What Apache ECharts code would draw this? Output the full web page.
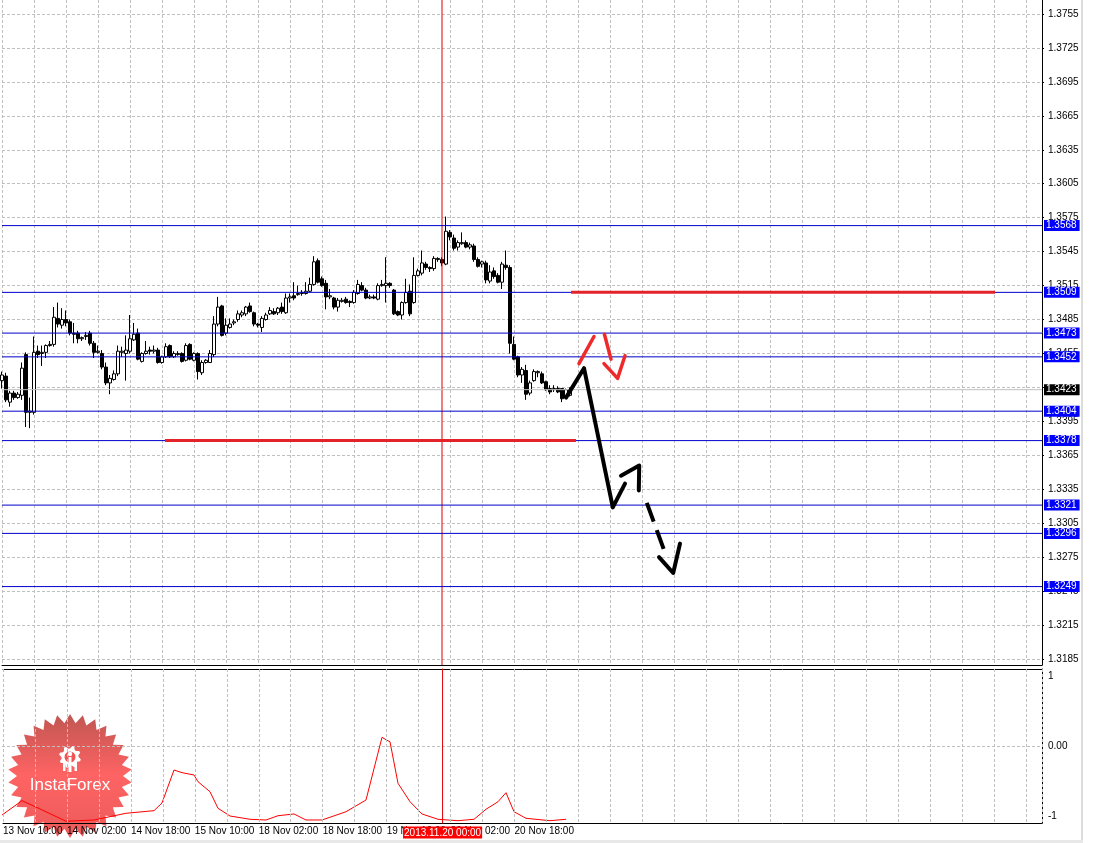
<!DOCTYPE html>
<html><head><meta charset="utf-8">
<script src="https://cdn.jsdelivr.net/npm/echarts@6/dist/echarts.min.js"></script>
<style>html,body{margin:0;padding:0;background:#fff}#c{width:1093px;height:843px}</style>
</head><body><div id="c"></div>
<script>
// time-axis tick labels, one every 16 hourly bars
const tickLabels = ['13 Nov 10:00','14 Nov 02:00','14 Nov 18:00','15 Nov 10:00','18 Nov 02:00','18 Nov 18:00','19 Nov 10:00','20 Nov 02:00','20 Nov 18:00'];
// hourly candles [open, close, low, high]
const ohlc = [
[1.3431,1.3436,1.3424,1.3439],[1.3435,1.3414,1.3412,1.3438],[1.3412,1.3420,1.3408,1.3422],[1.3420,1.3416,1.3414,1.3422],
[1.3416,1.3419,1.3415,1.3421],[1.3418,1.3442,1.3414,1.3447],[1.3454,1.3403,1.3390,1.3456],[1.3403,1.3404,1.3389,1.3416],
[1.3403,1.3456,1.3401,1.3470],[1.3457,1.3454,1.3451,1.3462],[1.3455,1.3456,1.3444,1.3462],[1.3456,1.3462,1.3451,1.3463],
[1.3462,1.3463,1.3461,1.3466],[1.3463,1.3487,1.3461,1.3496],[1.3486,1.3481,1.3478,1.3500],[1.3480,1.3485,1.3477,1.3495],
[1.3485,1.3482,1.3479,1.3493],[1.3483,1.3473,1.3471,1.3485],[1.3473,1.3472,1.3464,1.3482],[1.3473,1.3468,1.3464,1.3475],
[1.3468,1.3469,1.3466,1.3470],[1.3470,1.3471,1.3467,1.3474],[1.3473,1.3464,1.3462,1.3475],[1.3464,1.3456,1.3451,1.3466],
[1.3456,1.3457,1.3455,1.3462],[1.3455,1.3443,1.3441,1.3458],[1.3443,1.3429,1.3427,1.3447],[1.3429,1.3433,1.3419,1.3436],
[1.3432,1.3437,1.3431,1.3440],[1.3437,1.3457,1.3435,1.3462],[1.3456,1.3457,1.3452,1.3461],[1.3455,1.3458,1.3431,1.3471],
[1.3457,1.3468,1.3455,1.3489],[1.3467,1.3472,1.3466,1.3482],[1.3473,1.3450,1.3449,1.3477],[1.3448,1.3455,1.3447,1.3456],
[1.3455,1.3457,1.3454,1.3466],[1.3458,1.3457,1.3454,1.3461],[1.3457,1.3458,1.3455,1.3462],[1.3458,1.3447,1.3446,1.3460],
[1.3447,1.3452,1.3446,1.3453],[1.3452,1.3461,1.3451,1.3464],[1.3462,1.3452,1.3451,1.3463],[1.3452,1.3455,1.3451,1.3457],
[1.3454,1.3455,1.3453,1.3457],[1.3455,1.3448,1.3447,1.3456],[1.3449,1.3462,1.3448,1.3464],[1.3463,1.3450,1.3449,1.3464],
[1.3449,1.3455,1.3448,1.3456],[1.3455,1.3439,1.3432,1.3456],[1.3438,1.3447,1.3436,1.3449],[1.3447,1.3449,1.3446,1.3450],
[1.3447,1.3455,1.3447,1.3458],[1.3454,1.3481,1.3452,1.3488],[1.3481,1.3496,1.3479,1.3505],[1.3497,1.3471,1.3470,1.3498],
[1.3473,1.3480,1.3471,1.3486],[1.3478,1.3481,1.3477,1.3486],[1.3482,1.3483,1.3480,1.3485],[1.3485,1.3490,1.3483,1.3493],
[1.3489,1.3491,1.3487,1.3493],[1.3490,1.3496,1.3488,1.3497],[1.3497,1.3492,1.3491,1.3500],[1.3491,1.3481,1.3479,1.3492],
[1.3481,1.3480,1.3478,1.3482],[1.3478,1.3486,1.3474,1.3488],[1.3485,1.3489,1.3484,1.3491],[1.3490,1.3493,1.3489,1.3496],
[1.3492,1.3490,1.3489,1.3495],[1.3491,1.3495,1.3489,1.3496],[1.3496,1.3492,1.3490,1.3500],[1.3491,1.3504,1.3490,1.3508],
[1.3504,1.3505,1.3500,1.3508],[1.3506,1.3504,1.3502,1.3518],[1.3507,1.3508,1.3506,1.3515],[1.3508,1.3509,1.3506,1.3511],
[1.3508,1.3510,1.3507,1.3518],[1.3510,1.3516,1.3509,1.3522],[1.3516,1.3536,1.3515,1.3541],[1.3537,1.3518,1.3517,1.3539],
[1.3521,1.3515,1.3514,1.3523],[1.3517,1.3505,1.3494,1.3520],[1.3505,1.3506,1.3503,1.3512],[1.3504,1.3496,1.3494,1.3505],
[1.3496,1.3502,1.3492,1.3504],[1.3501,1.3502,1.3500,1.3504],[1.3503,1.3500,1.3499,1.3505],[1.3501,1.3500,1.3496,1.3502],
[1.3500,1.3509,1.3499,1.3511],[1.3508,1.3516,1.3507,1.3520],[1.3515,1.3511,1.3510,1.3518],[1.3511,1.3504,1.3503,1.3513],
[1.3504,1.3505,1.3503,1.3507],[1.3505,1.3504,1.3503,1.3507],[1.3503,1.3515,1.3502,1.3517],[1.3515,1.3516,1.3514,1.3520],
[1.3515,1.3517,1.3500,1.3540],[1.3517,1.3515,1.3513,1.3518],[1.3511,1.3490,1.3489,1.3512],[1.3492,1.3489,1.3488,1.3493],
[1.3489,1.3500,1.3485,1.3501],[1.3500,1.3509,1.3499,1.3521],[1.3510,1.3490,1.3488,1.3516],[1.3500,1.3524,1.3499,1.3540],
[1.3524,1.3528,1.3523,1.3530],[1.3526,1.3535,1.3524,1.3546],[1.3534,1.3531,1.3529,1.3536],[1.3531,1.3530,1.3527,1.3532],
[1.3530,1.3539,1.3528,1.3541],[1.3538,1.3539,1.3536,1.3540],[1.3538,1.3535,1.3532,1.3540],[1.3534,1.3563,1.3533,1.3576],
[1.3562,1.3558,1.3555,1.3564],[1.3557,1.3548,1.3546,1.3560],[1.3549,1.3553,1.3546,1.3555],[1.3552,1.3553,1.3551,1.3562],
[1.3553,1.3549,1.3548,1.3555],[1.3549,1.3551,1.3547,1.3553],[1.3550,1.3538,1.3536,1.3552],[1.3538,1.3532,1.3531,1.3540],
[1.3534,1.3536,1.3531,1.3537],[1.3535,1.3520,1.3517,1.3537],[1.3519,1.3527,1.3517,1.3533],[1.3528,1.3523,1.3521,1.3531],
[1.3524,1.3518,1.3517,1.3526],[1.3518,1.3534,1.3512,1.3536],[1.3533,1.3531,1.3529,1.3546],[1.3531,1.3464,1.3455,1.3533],
[1.3463,1.3450,1.3449,1.3470],[1.3452,1.3436,1.3434,1.3453],[1.3436,1.3441,1.3429,1.3443],[1.3440,1.3419,1.3414,1.3445],
[1.3420,1.3429,1.3418,1.3431],[1.3431,1.3439,1.3430,1.3441],[1.3438,1.3439,1.3434,1.3440],[1.3437,1.3429,1.3428,1.3439],
[1.3430,1.3423,1.3422,1.3431],[1.3424,1.3421,1.3419,1.3427],[1.3423,1.3424,1.3421,1.3427],[1.3424,1.3421,1.3420,1.3426],
[1.3424,1.3415,1.3412,1.3424],[1.3416,1.3423,1.3415,1.3424],[1.3418,1.3423,1.3417,1.3425]
];
// horizontal levels with price tags
const levels = [1.3568, 1.3509, 1.3473, 1.3452, 1.3404, 1.3378, 1.3321, 1.3296, 1.3249];
const bidPrice = 1.3423;
// level lines run across the whole bar range
const barRange = [0, 260];
// red trend levels [barIndex, price]
const redHigh = [[142.25, 1.3509], [248.25, 1.3509]];
const redLow = [[40.75, 1.3378], [143.5, 1.3378]];
// hand-drawn forecast arrows [barIndex, price]
const blackPath = [[141.0, 1.3416], [145.5, 1.3442], [152.7, 1.3319], [155.75, 1.3340]];
const blackHook = [[154.75, 1.3347], [159.3, 1.3356], [159.2, 1.3334]];
const blackDash = [[161.2, 1.3323], [165.75, 1.3279]];
const blackV = [[164.25, 1.3275], [167.8, 1.3261], [169.5, 1.3287]];
const red1 = [[144.25, 1.3446], [148.0, 1.3470]];
const red2 = [[150.6, 1.3472], [152.25, 1.3450]];
const redV = [[150.5, 1.3446], [153.9, 1.3433], [155.75, 1.3453]];
// oscillator [barIndex, value]
const indicator = [[0,-0.986],[5,-0.781],[9,-0.886],[16,-1.075],[23,-1.057],[31,-0.961],[38,-0.924],[40,-0.814],[43,-0.343],
[45,-0.381],[48,-0.414],[49,-0.510],[52,-0.653],[54,-0.890],[57,-1.000],[62,-1.047],[66,-1.057],[69,-0.996],[73,-0.971],
[76,-1.057],[80,-1.057],[86,-0.939],[91,-0.771],[95,0.124],[96,0.090],[97,0.060],[99,-0.533],[102,-0.796],[105,-0.971],
[109,-1.047],[114,-1.067],[118,-1.047],[121,-0.904],[124,-0.796],[126,-0.667],[128,-0.939],[131,-1.033],[137,-1.067],[141,-1.047]];
const crossIdx = 110;
const crossLabel = '2013.11.20 00:00';

const FONT = 'Liberation Sans';
const GRID_LINE = {show: true, lineStyle: {color: '#c0c0c0', width: 1, type: [3, 2]}};
const BLACK_LINE = {show: true, onZero: false, lineStyle: {color: '#000', width: 1}};

function levelSeries(v, bg, lineColor, z) {
  return {type: 'line', xAxisIndex: 1, yAxisIndex: 1, data: [[barRange[0], v], [barRange[1], v]], symbol: 'none',
    silent: true, clip: false, z: z, lineStyle: {color: lineColor, width: 1},
    endLabel: {show: true, distance: 2, formatter: v.toFixed(4), color: '#fff', backgroundColor: bg,
      padding: [1, 3, 0, 2], fontSize: 10, lineHeight: 10, fontFamily: FONT}};
}
function lineSeries(data, color, width, extra) {
  return Object.assign({type: 'line', xAxisIndex: 1, yAxisIndex: 1, data: data, symbol: 'none', silent: true,
    clip: false, z: 7, lineStyle: {color: color, width: width, cap: 'round', join: 'round'}}, extra || {});
}
function starPoints(cx, cy, R, r, n) {
  const p = [];
  for (let i = 0; i < 2 * n; i++) {
    const a = Math.PI * i / n - Math.PI / 2, rad = i % 2 === 0 ? R : r;
    p.push([cx + rad * Math.cos(a), cy + rad * Math.sin(a)]);
  }
  return p;
}
function gearPoints(cx, cy, R, r, teeth) {
  const p = [], m = teeth * 4, pat = [r, R, R, r];
  for (let i = 0; i < m; i++) {
    const a = 2 * Math.PI * i / m;
    p.push([cx + pat[i % 4] * Math.cos(a), cy + pat[i % 4] * Math.sin(a)]);
  }
  return p;
}

const series = [
  {type: 'candlestick', xAxisIndex: 1, yAxisIndex: 1, encode: {x: 0, y: [1, 2, 3, 4]},
    data: ohlc.map(function (d, i) { return [i, d[0], d[1], d[2], d[3]]; }),
    barWidth: 3, clip: false, silent: true, z: 3,
    itemStyle: {color: '#ffffff', color0: '#000000', borderColor: '#000000', borderColor0: '#000000', borderWidth: 1}},
  levelSeries(bidPrice, '#000000', '#c0c0c0', 6)
];
levels.forEach(function (v) { series.push(levelSeries(v, '#0000ff', '#0000cc', 5)); });
series.push(
  lineSeries(redHigh, '#e3222a', 3, {lineStyle: {color: '#e3222a', width: 3, cap: 'butt'}}),
  lineSeries(redLow, '#e3222a', 3, {lineStyle: {color: '#e3222a', width: 3, cap: 'butt'}}),
  lineSeries(blackPath, '#000', 4),
  lineSeries(blackHook, '#000', 4),
  lineSeries(blackDash, '#000', 4, {lineStyle: {color: '#000', width: 4, cap: 'butt', type: [20, 9]}}),
  lineSeries(blackV, '#000', 4),
  lineSeries(red1, '#ee2a2a', 3.5),
  lineSeries(red2, '#ee2a2a', 3.5),
  lineSeries(redV, '#ee2a2a', 3.5),
  {type: 'line', xAxisIndex: 0, yAxisIndex: 0, data: [[crossIdx, 0], [crossIdx, 1]], symbol: 'none', silent: true, z: 4,
    lineStyle: {color: '#e00000', width: 1}},
  {type: 'line', xAxisIndex: 2, yAxisIndex: 2, silent: true, z: 12, clip: false, symbol: 'rect', symbolSize: 1,
    itemStyle: {color: '#e00000'}, lineStyle: {color: '#e00000', width: 1},
    data: [{value: [crossIdx, 0], label: {show: true, position: 'bottom', distance: 3, formatter: crossLabel, color: '#fff',
      backgroundColor: '#ff0000', padding: [1, 1, 0, 1], fontSize: 10, lineHeight: 11, fontFamily: FONT}}, [crossIdx, 1]]},
  {type: 'line', xAxisIndex: 4, yAxisIndex: 3, data: indicator, symbol: 'none', silent: true, clip: false, z: 6,
    lineStyle: {color: '#ff0000', width: 1},
    markLine: {silent: true, symbol: ['none', 'none'], label: {show: false},
      lineStyle: {color: '#c0c0c0', width: 1, type: [3, 2]}, data: [{yAxis: 0}]}}
);

const chart = echarts.init(document.getElementById('c'));
chart.setOption({
  animation: false,
  backgroundColor: '#ffffff',
  textStyle: {fontFamily: FONT},
  grid: [
    {left: 2, right: 51, top: 0, height: 665},
    {left: 2, right: 51, top: 14, height: 645},
    {left: 2, right: 51, top: 669, height: 154},
    {left: 2, right: 51, top: 676, height: 140}
  ],
  xAxis: [
    {gridIndex: 0, type: 'value', min: 0, max: 260, interval: 8, axisLine: BLACK_LINE, axisTick: {show: false},
      axisLabel: {show: false}, splitLine: GRID_LINE},
    {gridIndex: 1, type: 'value', min: 0, max: 260, show: false},
    {gridIndex: 2, type: 'value', min: 0, max: 260, interval: 8, position: 'bottom', z: 10, axisLine: BLACK_LINE,
      axisTick: {show: false}, splitLine: GRID_LINE,
      axisLabel: {show: true, align: 'left', margin: 3, fontSize: 10, color: '#000', fontFamily: FONT,
        showMinLabel: true, showMaxLabel: true,
        formatter: function (v) { const k = Math.round(v); return (k % 16 === 0 && tickLabels[k / 16]) ? tickLabels[k / 16] : ''; }}},
    {gridIndex: 2, type: 'value', min: 0, max: 260, position: 'top', axisLine: BLACK_LINE, axisTick: {show: false},
      axisLabel: {show: false}, splitLine: {show: false}},
    {gridIndex: 3, type: 'value', min: 0, max: 260, show: false}
  ],
  yAxis: [
    {gridIndex: 0, type: 'value', min: 0, max: 1, position: 'right', axisLine: BLACK_LINE, axisTick: {show: false},
      axisLabel: {show: false}, splitLine: {show: false}},
    {gridIndex: 1, type: 'value', min: 1.3185, max: 1.3755, interval: 0.003, position: 'right', z: 0,
      axisLine: {show: false, onZero: false}, axisTick: {show: true, length: 2, lineStyle: {color: '#000'}},
      axisLabel: {show: true, margin: 6, fontSize: 10, color: '#000', fontFamily: FONT, showMinLabel: true, showMaxLabel: true,
        formatter: function (v) { return Math.abs(v - bidPrice) < 0.0004 ? '' : v.toFixed(4); }},
      splitLine: GRID_LINE},
    {gridIndex: 2, type: 'value', min: 0, max: 1, position: 'right', axisLine: BLACK_LINE, axisTick: {show: false},
      axisLabel: {show: false}, splitLine: {show: false}},
    {gridIndex: 3, type: 'value', min: -1, max: 1, interval: 1, position: 'right', axisLine: {show: false, onZero: false},
      axisTick: {show: false}, splitLine: {show: false},
      axisLabel: {show: true, margin: 6, fontSize: 10, color: '#000', fontFamily: FONT,
        formatter: function (v) { return v === 0 ? '0.00' : String(Math.round(v)); }}}
  ],
  series: series,
  graphic: [
    {type: 'rect', silent: true, z: 1, shape: {x: 1081, y: 0, width: 2, height: 843}, style: {fill: '#dcdcdc'}},
    {type: 'rect', silent: true, z: 1, shape: {x: 0, y: 840, width: 1083, height: 3}, style: {fill: '#e8e8e8'}},
    {type: 'polygon', silent: true, z: 5, shape: {points: starPoints(70, 776, 62, 53, 30)},
      style: {opacity: 0.9, fill: {type: 'linear', x: 0, y: 0, x2: 0, y2: 1,
        colorStops: [{offset: 0, color: '#b9443f'}, {offset: 0.5, color: '#ff5252'}, {offset: 1, color: '#e84848'}]}}},
    {type: 'polygon', silent: true, z: 7, shape: {points: gearPoints(70, 757, 11, 8.5, 8)}, style: {fill: '#ffffff'}},
    {type: 'circle', silent: true, z: 8, shape: {cx: 70, cy: 757, r: 5.5}, style: {fill: '#f25252'}},
    {type: 'circle', silent: true, z: 9, shape: {cx: 70, cy: 754, r: 2.2}, style: {fill: '#ffffff'}},
    {type: 'rect', silent: true, z: 9, shape: {x: 68.5, y: 757, width: 3, height: 15}, style: {fill: '#ffffff'}},
    {type: 'rect', silent: true, z: 9, shape: {x: 63, y: 762, width: 2.5, height: 9}, style: {fill: '#ffffff'}},
    {type: 'rect', silent: true, z: 9, shape: {x: 74.5, y: 762, width: 2.5, height: 9}, style: {fill: '#ffffff'}},
    {type: 'text', silent: true, z: 9, style: {text: 'InstaForex', x: 70, y: 785, align: 'center', verticalAlign: 'middle',
      textAlign: 'center', textVerticalAlign: 'middle', fill: '#ffffff', font: '17px "Liberation Sans"'}}
  ]
});
</script></body></html>
